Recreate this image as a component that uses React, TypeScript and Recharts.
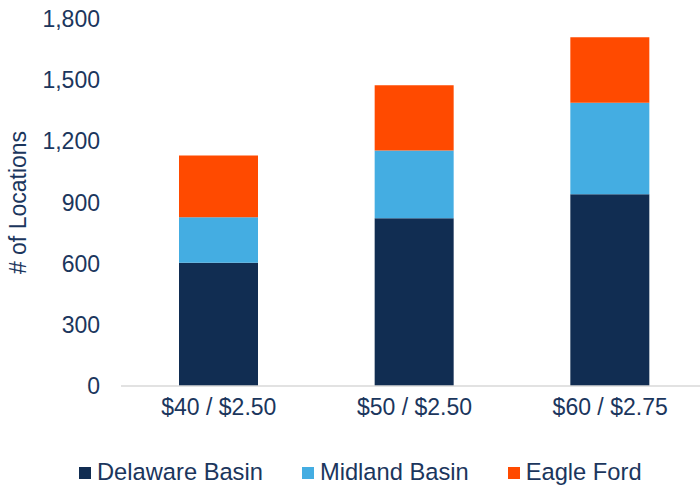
import React from 'react';
import { BarChart, Bar, XAxis, YAxis, Legend } from 'recharts';

const categories = ['$40 / $2.50', '$50 / $2.50', '$60 / $2.75'];
const delawareBasin = [605, 823, 941];
const midlandBasin = [223, 332, 448];
const eagleFord = [302, 320, 321];
const yTicks = [0, 300, 600, 900, 1200, 1500, 1800];

const seriesNames = ['Delaware Basin', 'Midland Basin', 'Eagle Ford'];
const colors = ['#112d52', '#44ade2', '#ff4a00'];
const textColor = '#1b365d';
const font = '"Liberation Sans", Arial, sans-serif';

const data = categories.map((c, i) => ({
  name: c,
  delaware: delawareBasin[i],
  midland: midlandBasin[i],
  eagle: eagleFord[i],
}));

const LegendContent = () => (
  <div style={{ display: 'flex', alignItems: 'center', fontFamily: font, fontSize: 23.7, color: textColor, whiteSpace: 'nowrap' }}>
    {seriesNames.map((n, i) => (
      <div key={n} style={{ display: 'flex', alignItems: 'center', marginRight: i < 2 ? 39 : 0 }}>
        <span style={{ display: 'inline-block', width: 12, height: 12, background: colors[i], marginRight: 6 }} />
        <span>{n}</span>
      </div>
    ))}
  </div>
);

export default function App() {
  return (
    <div style={{ position: 'absolute', left: 0, top: 0, width: 700, height: 485, overflow: 'hidden', background: '#fff' }}>
      <BarChart
        width={710}
        height={485}
        data={data}
        margin={{ top: 19, right: 2, left: 0, bottom: 0 }}
        barSize={79}
      >
        <XAxis
          dataKey="name"
          axisLine={{ stroke: '#d9d9d9', strokeWidth: 1.5 }}
          tickLine={false}
          tickSize={0}
          tickMargin={13}
          height={71}
          tick={{ fill: textColor, fontSize: 23, fontFamily: font }}
          interval={0}
        />
        <YAxis
          domain={[0, 1800]}
          ticks={yTicks}
          width={121}
          axisLine={false}
          tickLine={false}
          tickSize={0}
          tickMargin={21}
          tickFormatter={(v: number) => v.toLocaleString('en-US')}
          tick={{ fill: textColor, fontSize: 23, fontFamily: font }}
          label={{ value: '# of Locations', angle: -90, position: 'center', dx: -42.5, fill: textColor, fontSize: 23, fontFamily: font }}
        />
        <Legend
          content={<LegendContent />}
          wrapperStyle={{ position: 'absolute', left: 79, top: 459, width: 620, height: 28 }}
        />
        <Bar dataKey="delaware" stackId="a" fill={colors[0]} isAnimationActive={false} />
        <Bar dataKey="midland" stackId="a" fill={colors[1]} isAnimationActive={false} />
        <Bar dataKey="eagle" stackId="a" fill={colors[2]} isAnimationActive={false} />
      </BarChart>
    </div>
  );
}
